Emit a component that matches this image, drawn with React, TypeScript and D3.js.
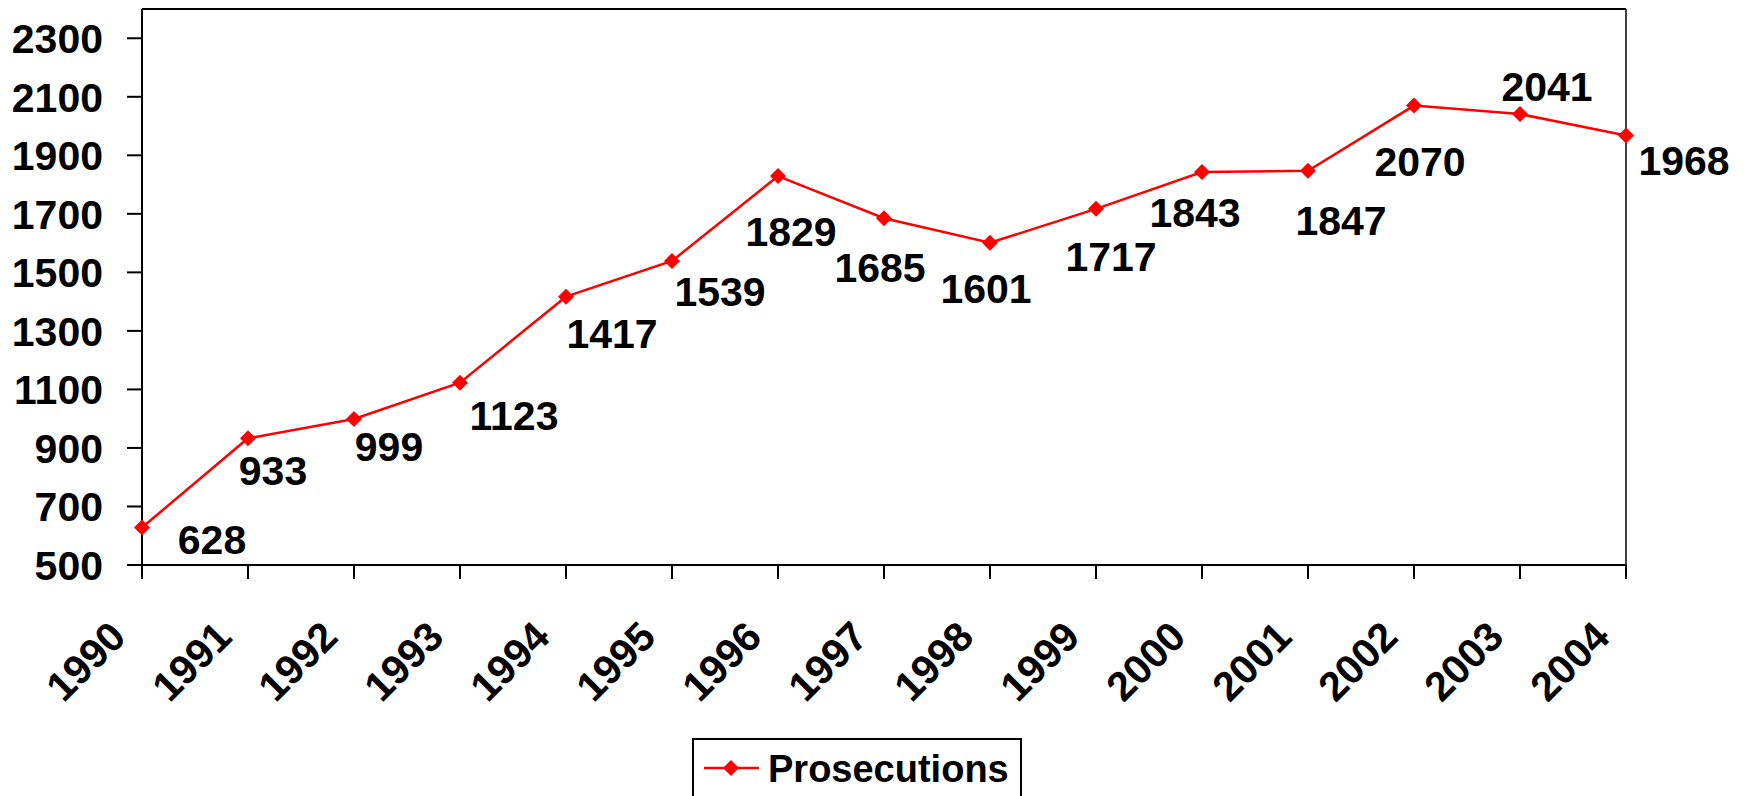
import * as d3 from "d3";
import React from "react";

// values
const years = ["1990", "1991", "1992", "1993", "1994", "1995", "1996", "1997", "1998", "1999", "2000", "2001", "2002", "2003", "2004"];
const prosecutions = [628, 933, 999, 1123, 1417, 1539, 1829, 1685, 1601, 1717, 1843, 1847, 2070, 2041, 1968];
const yTicks = [500, 700, 900, 1100, 1300, 1500, 1700, 1900, 2100, 2300];
const seriesName = "Prosecutions";

// where each data label sits relative to its point (centre x, baseline y)
const labelOffsets: [number, number][] = [
	[70, 26], [25, 47], [35, 42], [54, 47], [46, 51], [48, 45], [13, 70], [-4, 64],
	[-4, 60], [15, 62], [-7, 55], [33, 64], [6, 70], [27, -13], [58, 40],
];

const W = 1748;
const H = 796;
const margin = { top: 9, right: 122, bottom: 231, left: 142 };
const FONT = "'Liberation Sans', Arial, Helvetica, sans-serif";
const RED = "#ff0000";

export default function App() {
	const x = d3
		.scalePoint<string>()
		.domain(years)
		.range([margin.left, W - margin.right]);
	const y = d3
		.scaleLinear()
		.domain([500, 2400])
		.range([H - margin.bottom, margin.top]);

	const line = d3
		.line<number>()
		.x((_, i) => x(years[i]) as number)
		.y((d) => y(d));

	const diamond = d3.symbol().type(d3.symbolSquare).size(128)() as string;

	const x0 = margin.left;
	const x1 = W - margin.right;
	const yBottom = H - margin.bottom;
	const yTop = margin.top;

	return (
		<svg
			width={W}
			height={H}
			style={{ position: "absolute", left: 0, top: 0, background: "#fff" }}
			fontFamily={FONT}
			fontWeight="bold"
		>
			{/* plot frame */}
			<line x1={x0} x2={x1} y1={yTop} y2={yTop} stroke="#000" strokeWidth={2} />
			<line x1={x1} x2={x1} y1={yTop} y2={yBottom} stroke="#000" strokeWidth={1.5} />

			{/* y axis */}
			<line x1={x0} x2={x0} y1={yTop} y2={yBottom} stroke="#000" strokeWidth={2} />
			{yTicks.map((t) => (
				<g key={t}>
					<line x1={x0 - 15} x2={x0} y1={y(t)} y2={y(t)} stroke="#000" strokeWidth={2} />
					<text x={103} y={y(t)} dy="0.36em" textAnchor="end" fontSize={41}>
						{t}
					</text>
				</g>
			))}

			{/* x axis */}
			<line x1={x0} x2={x1} y1={yBottom} y2={yBottom} stroke="#000" strokeWidth={2} />
			{years.map((yr) => {
				const px = x(yr) as number;
				return (
					<g key={yr}>
						<line x1={px} x2={px} y1={yBottom} y2={yBottom + 14} stroke="#000" strokeWidth={2} />
						<text
							transform={`translate(${px - 14}, ${yBottom + 74}) rotate(-45)`}
							textAnchor="end"
							fontSize={41}
						>
							{yr}
						</text>
					</g>
				);
			})}

			{/* series */}
			<path d={line(prosecutions) ?? ""} fill="none" stroke={RED} strokeWidth={2.5} />
			{prosecutions.map((v, i) => (
				<path
					key={i}
					d={diamond}
					fill={RED}
					transform={`translate(${x(years[i])}, ${y(v)}) rotate(45)`}
				/>
			))}

			{/* data labels */}
			{prosecutions.map((v, i) => (
				<text
					key={i}
					x={(x(years[i]) as number) + labelOffsets[i][0]}
					y={y(v) + labelOffsets[i][1]}
					textAnchor="middle"
					fontSize={41}
				>
					{v}
				</text>
			))}

			{/* legend */}
			<rect x={693} y={739} width={328} height={80} fill="#fff" stroke="#000" strokeWidth={2} />
			<line x1={704} x2={759} y1={768} y2={768} stroke={RED} strokeWidth={2.5} />
			<path d={diamond} fill={RED} transform="translate(731, 768) rotate(45)" />
			<text x={768} y={782} fontSize={38}>
				{seriesName}
			</text>
		</svg>
	);
}
